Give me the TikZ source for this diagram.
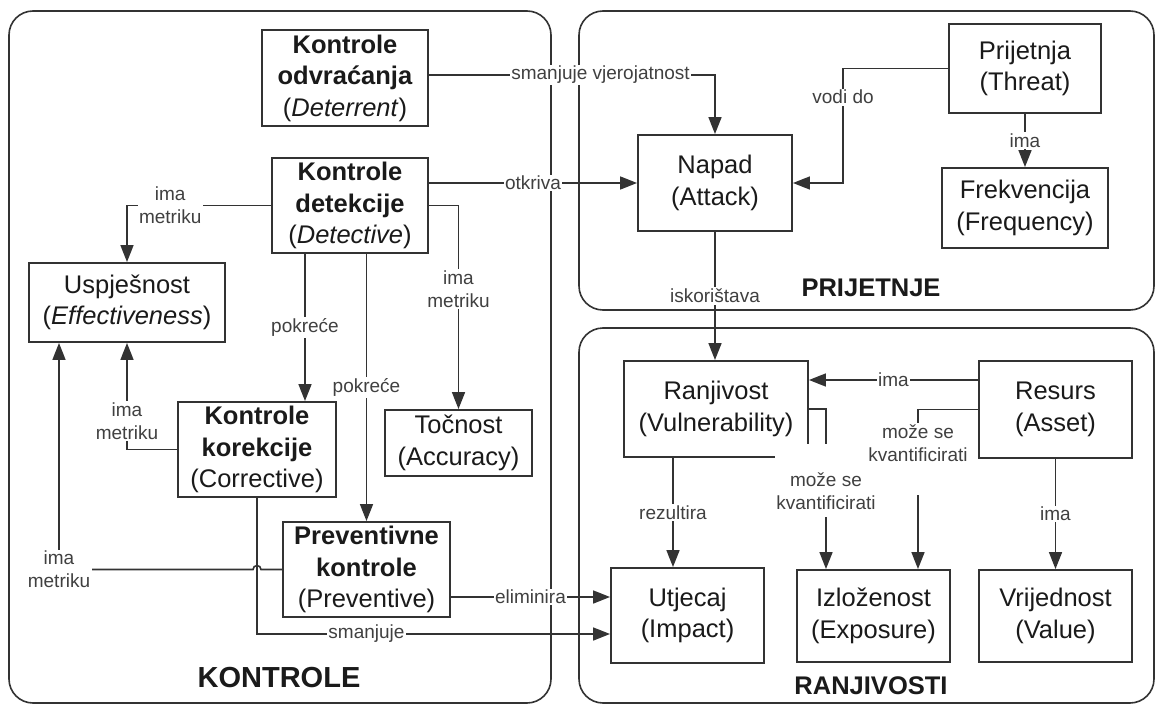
\documentclass[tikz,border=0pt]{standalone}
\usepackage{fontspec}
\setmainfont{Liberation Sans}
\usetikzlibrary{arrows.meta,calc}
\definecolor{linec}{HTML}{333333}
\definecolor{txtc}{HTML}{1A1A1A}
\definecolor{lblc}{HTML}{404040}
\begin{document}
\begin{tikzpicture}[x=1pt,y=1pt,
  box/.style={draw=linec, line width=1.9pt, fill=white, align=center, text=txtc,
    font=\fontsize{25.5}{31.5}\selectfont, inner sep=0pt},
  group/.style={draw=linec, line width=1.6pt, rounded corners=24pt},
  conn/.style={draw=linec, line width=1.6pt, -{Triangle[length=17pt,width=13pt]}},
  lbl/.style={fill=white, text=lblc, font=\fontsize{19}{23}\selectfont, align=center,
    inner xsep=1.5pt, inner ysep=1.5pt},
  ttl/.style={font=\fontsize{25.5}{30}\selectfont\bfseries, text=txtc, inner sep=0pt}
]
\fill[white] (0,0) rectangle (1157,-706);
\useasboundingbox (0,0) rectangle (1157,-706);

% groups
\draw[group] (9,-11) rectangle (551,-703);
\draw[group] (579,-11) rectangle (1154,-310);
\draw[group] (579,-328) rectangle (1154,-703);

% titles
\node[ttl, font=\fontsize{29}{34}\selectfont\bfseries] (tk) at (279,-678) {KONTROLE};
\node[ttl] (tp) at (871,-288) {PRIJETNJE};
\node[ttl] (tr) at (871,-686) {RANJIVOSTI};

% boxes
\node[box, minimum width=166pt, minimum height=96pt] (det) at (345,-78)
  {\textbf{Kontrole}\\\textbf{odvraćanja}\\(\textit{Deterrent})};
\node[box, minimum width=156pt, minimum height=95pt] (detc) at (350,-205.5)
  {\textbf{Kontrole}\\\textbf{detekcije}\\(\textit{Detective})};
\node[box, minimum width=196pt, minimum height=79pt] (usp) at (127,-302.5)
  {Uspješnost\\(\textit{Effectiveness})};
\node[box, minimum width=158pt, minimum height=95pt] (cor) at (257,-449.5)
  {\textbf{Kontrole}\\\textbf{korekcije}\\(Corrective)};
\node[box, minimum width=147pt, minimum height=66pt] (toc) at (458.5,-443)
  {Točnost\\(Accuracy)};
\node[box, minimum width=167pt, minimum height=95pt] (prev) at (366.5,-569.5)
  {\textbf{Preventivne}\\\textbf{kontrole}\\(Preventive)};
\node[box, minimum width=154pt, minimum height=96pt] (nap) at (715,-183)
  {Napad\\(Attack)};
\node[box, minimum width=152pt, minimum height=89pt] (prij) at (1025,-68.5)
  {Prijetnja\\(Threat)};
\node[box, minimum width=166pt, minimum height=80pt] (frek) at (1025,-208)
  {Frekvencija\\(Frequency)};
\node[box, minimum width=184pt, minimum height=96pt] (ranj) at (716,-409)
  {Ranjivost\\(Vulnerability)};
\node[box, minimum width=153pt, minimum height=97pt] (res) at (1055.5,-409.5)
  {Resurs\\(Asset)};
\node[box, minimum width=153pt, minimum height=95pt] (utj) at (687.5,-615.5)
  {Utjecaj\\(Impact)};
\node[box, minimum width=153pt, minimum height=92pt] (izl) at (873.5,-616)
  {Izloženost\\(Exposure)};
\node[box, minimum width=153pt, minimum height=92pt] (vri) at (1055.5,-616)
  {Vrijednost\\(Value)};

% helper coordinates
\coordinate (a1) at ($(det.east)+(0,3)$);
\coordinate (b1) at (nap.west -| detc.east);
\coordinate (c1) at ($(detc.south)+(-45,0)$);
\coordinate (uspL) at ($(usp.south)+(-68,0)$);
\coordinate (hopR) at ($(cor.south |- prev.west)+(4,0)$);
\coordinate (u1) at ($(utj.west)+(0,-18.5)$);
\coordinate (p1) at ($(prev.east)+(0,-27.5)$);
\coordinate (v1) at ($(prij.west)+(-105,0)$);
\coordinate (r1) at ($(res.west)+(0,29.5)$);
\coordinate (r2) at ($(izl.north)+(44.5,0)$);
\coordinate (r3) at ($(izl.north)+(-47.5,0)$);
\coordinate (r4) at ($(ranj.south)+(-43,0)$);

% connectors
\draw[conn] (a1) -- node[lbl,pos=0.6]{smanjuje vjerojatnost} (a1 -| nap.north) -- (nap.north);
\draw[conn] (b1) -- node[lbl]{otkriva} (nap.west);
\draw[conn] (detc.west) -- node[lbl,pos=0.7]{ima\\metriku} (detc.west -| usp.north) -- (usp.north);
\draw[conn] (detc.east) -- (detc.east -| toc.north) -- node[lbl,pos=0.41]{ima\\metriku} (toc.north);
\draw[conn] (c1) -- node[lbl]{pokreće} (c1 |- cor.north);
\draw[conn] (prev.north |- detc.south) -- node[lbl]{pokreće} (prev.north);
\draw[conn] (cor.west) -- (cor.west -| usp.south) -- node[lbl,pos=0.27]{ima\\metriku} (usp.south);
\draw[conn] (prev.west) -- (hopR) arc[start angle=0,end angle=180,radius=4]
  -- (prev.west -| uspL) node[lbl]{ima\\metriku} -- (uspL);
\draw[conn] (cor.south) -- (cor.south |- u1) -- node[lbl,pos=0.31]{smanjuje} (u1);
\draw[conn] (p1) -- node[lbl]{eliminira} (p1 -| utj.west);
\draw[conn] (prij.west) -- (v1) -- node[lbl,pos=0.25]{vodi do} (v1 |- nap.east) -- (nap.east);
\draw[conn] (prij.south) -- node[lbl]{ima} (frek.north);
\draw[conn] (nap.south) -- node[lbl]{iskorištava} (nap.south |- ranj.north);
\draw[conn] (r1) -- node[lbl]{ima} (r1 -| ranj.east);
\draw[conn] (ranj.east) -- (ranj.east -| r3) -- node[lbl,anchor=north,pos=0.211]
  {\rule{0pt}{41pt}može se\\kvantificirati\rule[-6pt]{0pt}{6pt}} (r3);
\draw[conn] (res.west) -- (res.west -| r2) -- node[lbl,anchor=north,pos=0.078]
  {može se\\kvantificirati\rule[-32pt]{0pt}{32pt}} (r2);
\draw[conn] (r4) -- node[lbl]{rezultira} (r4 |- utj.north);
\draw[conn] (res.south) -- node[lbl]{ima} (res.south |- vri.north);
\end{tikzpicture}
\end{document}
